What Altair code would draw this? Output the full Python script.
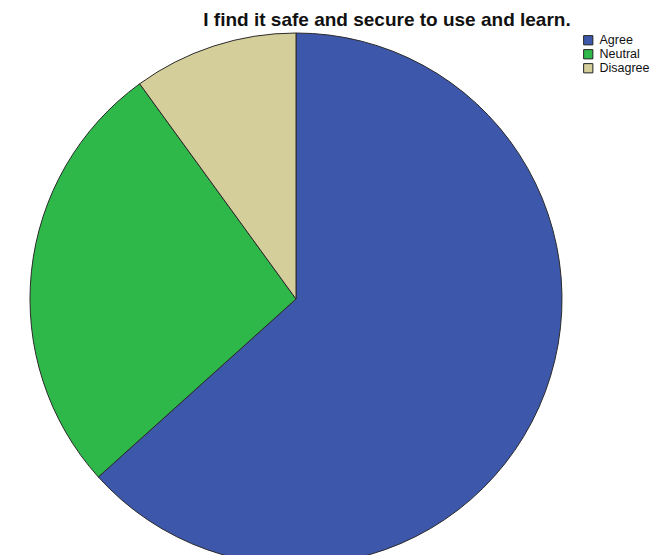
import altair as alt
import pandas as pd

categories = ["Agree", "Neutral", "Disagree"]
counts = [19, 8, 3]
colors = ["#3D58AB", "#2FB84A", "#D4CE9A"]
title_text = "I find it safe and secure to use and learn."

df = pd.DataFrame({"category": categories, "count": counts, "order": [0, 1, 2]})

pie = alt.Chart(df).mark_arc(
    radius=266, stroke="#2a2a2a", strokeWidth=1
).encode(
    theta=alt.Theta("count:Q", stack=True),
    order=alt.Order("order:Q"),
    color=alt.Color(
        "category:N",
        scale=alt.Scale(domain=categories, range=colors),
        legend=alt.Legend(
            title=None,
            orient="none",
            legendX=582,
            legendY=34,
            symbolType="square",
            symbolSize=85,
            symbolStrokeColor="#222",
            symbolStrokeWidth=1,
            symbolOpacity=1,
            labelFont="Liberation Sans",
            labelFontSize=12.5,
            labelColor="#111",
            labelOffset=5,
            rowPadding=0,
        ),
    ),
    x=alt.value(296),
    y=alt.value(299),
)

title = alt.Chart(pd.DataFrame({"t": [title_text]})).mark_text(
    font="Liberation Sans", fontSize=19, fontWeight="bold", color="#111",
    align="center", baseline="alphabetic"
).encode(
    text="t:N",
    x=alt.value(387),
    y=alt.value(26),
)

chart = alt.layer(pie, title).properties(
    width=651, height=555, padding=0, background="white",
    autosize=alt.AutoSizeParams(type="none"),
).configure_view(stroke=None)

chart.save("out.html", embed_options={"renderer": "svg", "actions": False})
